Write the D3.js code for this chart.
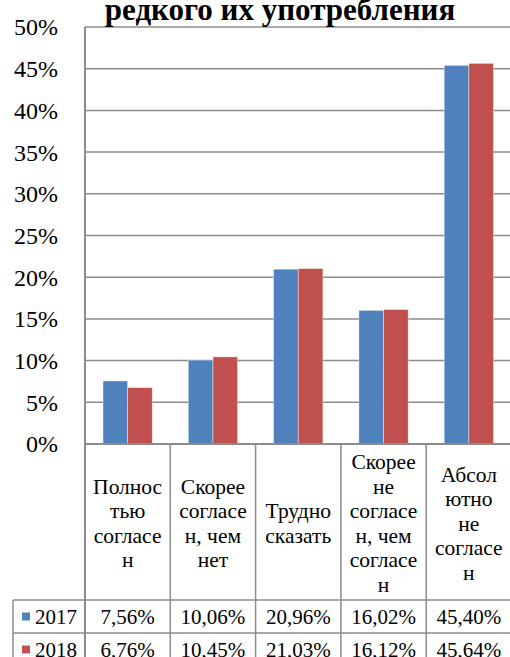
<!DOCTYPE html>
<html><head><meta charset="utf-8">
<script src="https://cdn.jsdelivr.net/npm/d3@7"></script>
<style>html,body{margin:0;padding:0;background:#fff;overflow:hidden}</style>
</head><body>
<script>
const categories = [
  ["Полнос","тью","согласе","н"],
  ["Скорее","согласе","н, чем","нет"],
  ["Трудно","сказать"],
  ["Скорее","не","согласе","н, чем","согласе","н"],
  ["Абсол","ютно","не","согласе","н"]
];
const catKeys = ["c1","c2","c3","c4","c5"];
const seriesNames = ["2017","2018"];
const values2017 = [7.56, 10.06, 20.96, 16.02, 45.40];
const values2018 = [6.76, 10.45, 21.03, 16.12, 45.64];
const yTicks = [0,5,10,15,20,25,30,35,40,45,50];
const colors = ["#4F81BD","#C0504D"];
const title = "редкого их употребления";

(function(){
const W=510,H=657;
const FF='"Liberation Serif"';
const svg=d3.select("body").append("svg").attr("width",W).attr("height",H).style("font-family",FF);
const gridCol="#8c8c8c";

const left=85, catW=85.3, plotTop=27, bottom=444;
const x0=d3.scaleBand().domain(catKeys).range([left,left+catW*5]);
const x1=d3.scaleBand().domain(seriesNames).range([18,catW-18]);
const y=d3.scaleLinear().domain([0,50]).range([bottom,plotTop]);

svg.append("g").selectAll("line").data(yTicks.filter(d=>d>0)).join("line")
  .attr("x1",left).attr("x2",W).attr("y1",d=>y(d)).attr("y2",d=>y(d))
  .attr("stroke",gridCol).attr("stroke-width",1.5);

svg.append("g").selectAll("text").data(yTicks).join("text")
  .attr("x",58).attr("y",d=>y(d)).attr("dy","0.35em").attr("text-anchor","end")
  .style("font-family",FF).attr("font-size",24).attr("fill","#000")
  .text(d=>d+"%");

const series=[values2017,values2018];
series.forEach((vals,si)=>{
  svg.append("g").selectAll("rect").data(vals).join("rect")
    .attr("x",(d,i)=>x0(catKeys[i])+x1(seriesNames[si]))
    .attr("width",x1.bandwidth())
    .attr("y",d=>y(d)).attr("height",d=>y(0)-y(d))
    .attr("fill",colors[si]).attr("stroke","rgba(255,255,255,0.5)").attr("stroke-width",0.8);
});

svg.append("line").attr("x1",left).attr("x2",left).attr("y1",plotTop).attr("y2",H)
  .attr("stroke",gridCol).attr("stroke-width",2);
svg.append("line").attr("x1",left).attr("x2",W).attr("y1",bottom).attr("y2",bottom)
  .attr("stroke",gridCol).attr("stroke-width",2);

const row1=600, row2=633, row3=666, tableLeft=13;
catKeys.forEach((k,i)=>{
  svg.append("line").attr("x1",x0(k)+catW).attr("x2",x0(k)+catW).attr("y1",bottom).attr("y2",H)
    .attr("stroke",gridCol).attr("stroke-width",1.5);
});
[row1,row2].forEach(yy=>{
  svg.append("line").attr("x1",tableLeft).attr("x2",W).attr("y1",yy).attr("y2",yy)
    .attr("stroke",gridCol).attr("stroke-width",1.5);
});
svg.append("line").attr("x1",tableLeft).attr("x2",tableLeft).attr("y1",row1).attr("y2",H)
  .attr("stroke",gridCol).attr("stroke-width",1.5);

const lh=24.5, hc=(bottom+row1)/2+1;
categories.forEach((lines,i)=>{
  const cx=x0(catKeys[i])+catW/2;
  const t=svg.append("text").style("font-family",FF).attr("font-size",21.5).attr("text-anchor","middle").attr("fill","#000");
  lines.forEach((ln,j)=>{
    t.append("tspan").attr("x",cx).attr("y",hc+(j-(lines.length-1)/2)*lh).attr("dy","0.35em").text(ln);
  });
});

const fmt=v=>v.toFixed(2).replace(".",",")+"%";
[[values2017,row1,row2],[values2018,row2,row3]].forEach(([vals,a,b],si)=>{
  const cy=(a+b)/2;
  svg.append("rect").attr("x",22).attr("y",cy-4).attr("width",8).attr("height",8).attr("fill",colors[si]);
  svg.append("text").attr("x",35).attr("y",cy).attr("dy","0.35em").style("font-family",FF).attr("font-size",21).text(seriesNames[si]);
  vals.forEach((v,i)=>{
    svg.append("text").attr("x",x0(catKeys[i])+catW/2).attr("y",cy).attr("dy","0.35em")
      .attr("text-anchor","middle").style("font-family",FF).attr("font-size",21).text(fmt(v));
  });
});

svg.append("text").attr("x",280).attr("y",20).attr("text-anchor","middle")
  .style("font-family",FF).attr("font-weight","bold").attr("font-size",31).text(title);
})();
</script>
</body></html>
